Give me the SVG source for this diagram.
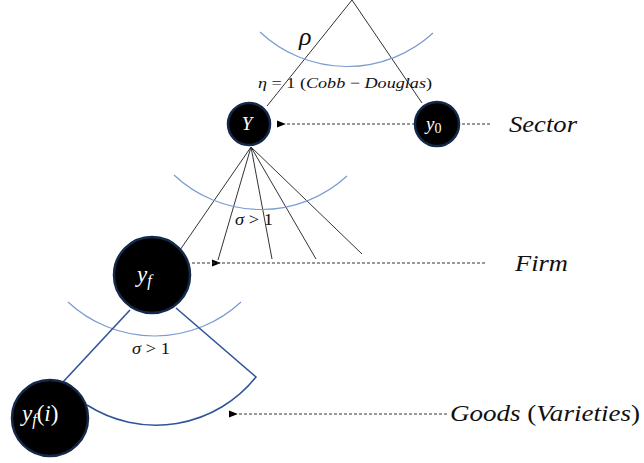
<svg xmlns="http://www.w3.org/2000/svg" width="644" height="463" viewBox="0 0 644 463">
<defs>
<marker id="ah" viewBox="0 0 10 10" refX="1" refY="5" markerWidth="9" markerHeight="9" markerUnits="userSpaceOnUse" orient="auto">
<path d="M10,1 L0,5 L10,9 Z" fill="#000"/>
</marker>
</defs>
<style>
.gl{stroke:#333;stroke-width:1;fill:none}
.arc{stroke:#7b9bd1;stroke-width:1.2;fill:none}
.bl{stroke:#2f5597;stroke-width:1.6;fill:none}
.dash{stroke:#333;stroke-width:1;stroke-dasharray:3 2;fill:none}
.node circle{fill:#000;stroke:#14284a;stroke-width:2.5}
.nt{font-family:"Liberation Serif","DejaVu Serif",serif;font-style:italic;fill:#fff}
.lab{font-family:"Liberation Serif","DejaVu Serif",serif;font-style:italic;fill:#111}
.up{font-style:normal}
</style>
<rect width="644" height="463" fill="#fff"/>
<g id="connectors">
<path class="gl" d="M352,0 L267,106"/>
<path class="gl" d="M352,0 L422,103"/>
<path class="arc" d="M260,32 A127,127 0 0 0 433,33"/>
<path class="gl" d="M251,147 L180,250"/>
<path class="gl" d="M251,147 L218,260"/>
<path class="gl" d="M251,147 L272,259"/>
<path class="gl" d="M251,147 L316,259"/>
<path class="gl" d="M251,147 L362,254"/>
<path class="arc" d="M174,175 A127,127 0 0 0 347,176"/>
<path class="arc" d="M68,302 A127,127 0 0 0 241,302"/>
<path class="bl" d="M130,310 L63,382"/>
<path class="bl" d="M176,308 L256,377 A128,128 0 0 1 87,405"/>
<path class="dash" d="M490,124 L285,124" marker-end="url(#ah)"/>
<path class="dash" d="M485,263 L220,263" marker-end="url(#ah)"/>
<path class="dash" d="M220,263 L190,263"/>
<path class="dash" d="M447,414 L237,414" marker-end="url(#ah)"/>
</g>
<g id="node-Y" class="node">
<circle cx="249" cy="124" r="21"/>
<text class="nt" x="247" y="130" font-size="19" text-anchor="middle">Y</text>
</g>
<g id="node-y0" class="node">
<circle cx="437" cy="124" r="22"/>
<text class="nt" x="426" y="130" font-size="19">y<tspan class="up" font-size="14" dy="3">0</tspan></text>
</g>
<g id="node-yf" class="node">
<circle cx="152" cy="275" r="38"/>
<text class="nt" x="137" y="282" font-size="23">y<tspan font-size="16" dy="4">f</tspan></text>
</g>
<g id="node-yfi" class="node">
<circle cx="50" cy="418" r="38"/>
<text class="nt" x="22" y="421" font-size="23">y<tspan font-size="16" dy="4">f</tspan><tspan class="up" dy="-4">(</tspan>i<tspan class="up">)</tspan></text>
</g>
<g id="labels">
<text class="lab" x="299" y="45" font-size="26">ρ</text>
<text class="lab" x="258" y="88" font-size="15" textLength="174" lengthAdjust="spacingAndGlyphs">η <tspan class="up">= 1 (</tspan>Cobb <tspan class="up">−</tspan> Douglas<tspan class="up">)</tspan></text>
<text class="lab" x="235" y="225" font-size="17" textLength="38" lengthAdjust="spacingAndGlyphs">σ <tspan class="up">&gt; 1</tspan></text>
<text class="lab" x="132" y="354" font-size="17" textLength="38" lengthAdjust="spacingAndGlyphs">σ <tspan class="up">&gt; 1</tspan></text>
<text class="lab" x="509" y="132" font-size="23" textLength="68" lengthAdjust="spacingAndGlyphs">Sector</text>
<text class="lab" x="515" y="271" font-size="23" textLength="53" lengthAdjust="spacingAndGlyphs">Firm</text>
<text class="lab" x="450" y="421" font-size="23" textLength="190" lengthAdjust="spacingAndGlyphs">Goods <tspan class="up">(</tspan>Varieties<tspan class="up">)</tspan></text>
</g>
</svg>
